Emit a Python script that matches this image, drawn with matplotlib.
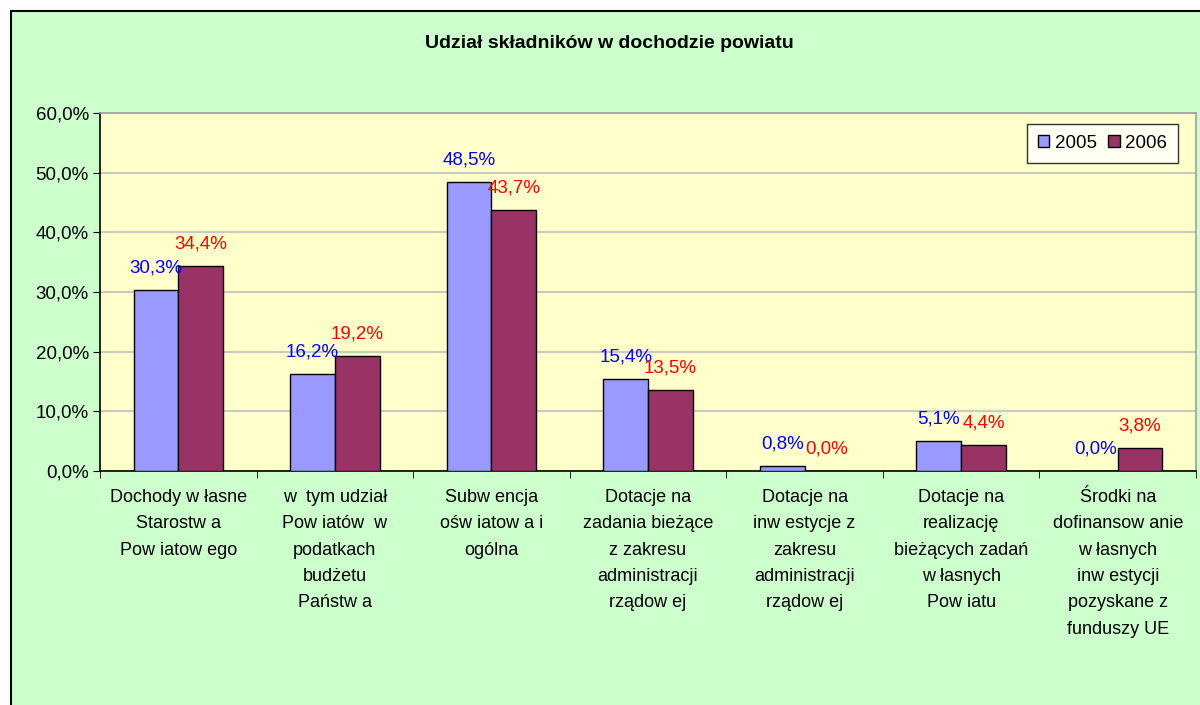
import numpy as np
import matplotlib
matplotlib.use("Agg")
import matplotlib.pyplot as plt
from matplotlib.patches import Rectangle
from matplotlib.ticker import FuncFormatter, FixedLocator

plt.rcParams['font.family'] = ['Liberation Sans', 'DejaVu Sans']

# Data
categories = [
    "Dochody w łasne\nStarostw a\nPow iatow ego",
    "w  tym udział\nPow iatów  w\npodatkach\nbudżetu\nPaństw a",
    "Subw encja\nośw iatow a i\nogólna",
    "Dotacje na\nzadania bieżące\nz zakresu\nadministracji\nrządow ej",
    "Dotacje na\ninw estycje z\nzakresu\nadministracji\nrządow ej",
    "Dotacje na\nrealizację\nbieżących zadań\nw łasnych\nPow iatu",
    "Środki na\ndofinansow anie\nw łasnych\ninw estycji\npozyskane z\nfunduszy UE",
]
share_2005 = [30.3, 16.2, 48.5, 15.4, 0.8, 5.1, 0.0]
share_2006 = [34.4, 19.2, 43.7, 13.5, 0.0, 4.4, 3.8]
series_names = ["2005", "2006"]
title = "Udział składników w dochodzie powiatu"

c2005 = "#9999FF"
c2006 = "#993366"

fig = plt.figure(figsize=(12, 7.05), dpi=100)
fig.patch.set_facecolor("white")
# green chart area with black border (cut off at right / bottom like the source)
fig.patches.append(Rectangle((11 / 1200, -0.05), 1.1, 1 - 11 / 705 + 0.05,
                             transform=fig.transFigure, facecolor="#CCFFCC",
                             edgecolor="black", linewidth=1.5, zorder=-10))

ax = fig.add_axes([100 / 1200, 1 - 471 / 705, 1096 / 1200, 358 / 705])
ax.set_facecolor("#FFFFCC")

x = np.arange(len(categories))
w = 1 / 3.5
b1 = ax.bar(x - w / 2, share_2005, w, color=c2005, edgecolor="black", linewidth=1, label=series_names[0], zorder=3)
b2 = ax.bar(x + w / 2, share_2006, w, color=c2006, edgecolor="black", linewidth=1, label=series_names[1], zorder=3)

fmt = lambda v: f"{v:.1f}%".replace(".", ",")
for bars, vals, col in [(b1, share_2005, "blue"), (b2, share_2006, "red")]:
    for r, v in zip(bars, vals):
        ax.annotate(fmt(v), (r.get_x() + r.get_width() / 2, v), xytext=(0, 22),
                    textcoords="offset pixels", ha="center", va="center",
                    color=col, fontsize=13.5, zorder=5)

ax.set_xlim(-0.5, len(categories) - 0.5)
ax.set_ylim(0, 60)
ax.set_yticks(np.arange(0, 61, 10))
ax.yaxis.set_major_formatter(FuncFormatter(lambda v, p: fmt(v)))
ax.grid(axis="y", color="#C0C0C0", linewidth=1.2, zorder=1)

ax.set_xticks(x)
ax.set_xticklabels(categories, fontsize=13, linespacing=1.72, va="top")
ax.xaxis.set_minor_locator(FixedLocator(np.arange(-0.5, len(categories), 1)))
ax.tick_params(axis="x", which="major", length=0, pad=13)
ax.tick_params(axis="x", which="minor", length=5, direction="out", color="black")
ax.tick_params(axis="y", length=5, direction="out", labelsize=13.5, pad=3)

for s in ["left", "bottom"]:
    ax.spines[s].set_color("black")
    ax.spines[s].set_linewidth(1.2)
for s in ["top", "right"]:
    ax.spines[s].set_color("#A0A0A0")
    ax.spines[s].set_linewidth(1.2)

leg = ax.legend(loc="upper right", bbox_to_anchor=(0.984, 0.97), borderaxespad=0,
                ncol=2, fontsize=13.5, frameon=True, fancybox=False,
                handlelength=0.6, handleheight=0.6, handletextpad=0.3,
                columnspacing=0.6, borderpad=0.6)
leg.get_frame().set_edgecolor("black")
leg.get_frame().set_linewidth(1)
leg.get_frame().set_facecolor("white")

fig.text(0.508, 1 - 43 / 705, title, ha="center", va="center",
         fontsize=14, fontweight="bold")

fig.savefig("out.png", dpi=100)
